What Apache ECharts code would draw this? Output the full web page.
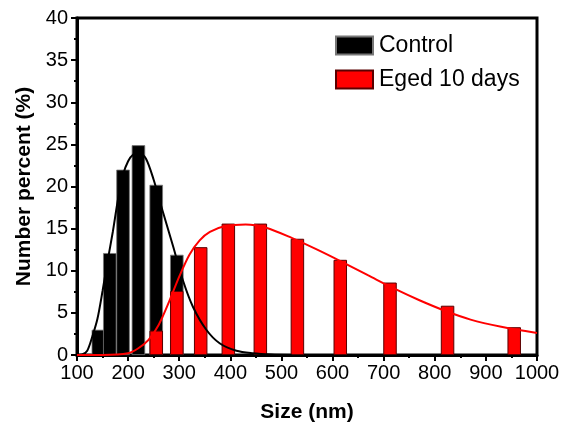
<!DOCTYPE html>
<html><head><meta charset="utf-8">
<script src="https://cdn.jsdelivr.net/npm/echarts@6/dist/echarts.min.js"></script>
<style>html,body{margin:0;padding:0;background:#fff}#c{width:568px;height:432px}</style>
</head><body><div id="c"></div>
<script>
const controlSizes = [141.8, 164.2, 190.1, 220.2, 255.0, 295.3];
const controlValues = [3.0, 12.1, 22.0, 24.9, 20.2, 11.9];
const agedSizes = [255.0, 295.3, 342.0, 396.1, 458.7, 531.2, 615.1, 712.4, 825.0, 955.4];
const agedValues = [2.9, 7.6, 12.8, 15.6, 15.6, 13.8, 11.3, 8.6, 5.85, 3.3];
const controlFitX = [100, 110, 120, 130, 140, 150, 160, 170, 180, 190, 200, 210, 222, 235, 250, 268, 288, 307, 327, 353, 379, 412, 444, 480, 520];
const controlFitY = [0, 0.05, 0.5, 2.2, 4.3, 7.6, 11.2, 14.6, 18.4, 21.4, 23.0, 23.8, 24.0, 23.3, 20.8, 17.0, 12.9, 8.9, 5.7, 3.0, 1.4, 0.5, 0.2, 0.05, 0];
const agedFitX = [100, 150, 200, 220, 240, 260, 280, 300, 320, 340, 360, 390, 430, 470, 520, 570, 620, 670, 720, 770, 820, 870, 930, 1000];
const agedFitY = [0, 0, 0.2, 0.8, 1.8, 3.6, 6.3, 9.3, 11.9, 13.6, 14.6, 15.3, 15.5, 15.1, 13.9, 12.5, 11.0, 9.45, 7.9, 6.5, 5.25, 4.2, 3.35, 2.6];
const xTicks = {min: 100, max: 1000, interval: 100};
const yTicks = {min: 0, max: 40, interval: 5};

const zip = (a, b) => a.map((v, i) => [v, b[i]]);
const FONT = 'Liberation Sans';
const chart = echarts.init(document.getElementById('c'), null, {renderer: 'canvas'});
const axisCommon = {
  axisLine: {show: true, onZero: false, lineStyle: {color: '#000', width: 3}},
  axisTick: {show: true, inside: false, length: 6, lineStyle: {color: '#000', width: 2}},
  minorTick: {show: true, splitNumber: 2, length: 3, lineStyle: {color: '#000', width: 2}},
  splitLine: {show: false},
  axisLabel: {color: '#000', fontFamily: FONT, fontSize: 20, formatter: v => String(v)},
  nameTextStyle: {color: '#000', fontFamily: FONT, fontSize: 21, fontWeight: 'bold'}
};
chart.setOption({
  animation: false,
  backgroundColor: '#fff',
  grid: {left: 77, right: 31, top: 18, bottom: 77, show: true, borderColor: '#000', borderWidth: 3, containLabel: false},
  legend: {
    data: ['Control', 'Eged 10 days'],
    orient: 'vertical', left: 330, top: 29,
    itemWidth: 37, itemHeight: 18, itemGap: 11,
    icon: 'rect',
    textStyle: {color: '#000', fontFamily: FONT, fontSize: 23, padding: [0, 0, 0, 1]}
  },
  xAxis: Object.assign({}, axisCommon, {
    type: 'value', min: xTicks.min, max: xTicks.max, interval: xTicks.interval,
    name: 'Size (nm)', nameLocation: 'middle', nameGap: 47,
    axisLabel: Object.assign({}, axisCommon.axisLabel, {margin: 8})
  }),
  yAxis: Object.assign({}, axisCommon, {
    type: 'value', min: yTicks.min, max: yTicks.max, interval: yTicks.interval,
    name: 'Number percent (%)', nameLocation: 'middle', nameGap: 40,
    axisLabel: Object.assign({}, axisCommon.axisLabel, {margin: 9})
  }),
  series: [
    {name: 'Control', type: 'bar', data: zip(controlSizes, controlValues), barWidth: 13.5, barGap: '-100%', z: 2,
     itemStyle: {color: '#000', borderColor: '#777', borderWidth: 0.8}},
    {name: 'Eged 10 days', type: 'bar', data: zip(agedSizes, agedValues), barWidth: 13.5, barGap: '-100%', z: 3,
     itemStyle: {color: '#ff0000', borderColor: '#5a0000', borderWidth: 1}},
    {name: 'Control fit', type: 'line', data: zip(controlFitX, controlFitY), smooth: 0.3, showSymbol: false, z: 4,
     lineStyle: {color: '#000', width: 2}},
    {name: 'Aged fit', type: 'line', data: zip(agedFitX, agedFitY), smooth: 0.3, showSymbol: false, z: 5,
     lineStyle: {color: '#ff0000', width: 2}}
  ]
});
</script>
</body></html>
